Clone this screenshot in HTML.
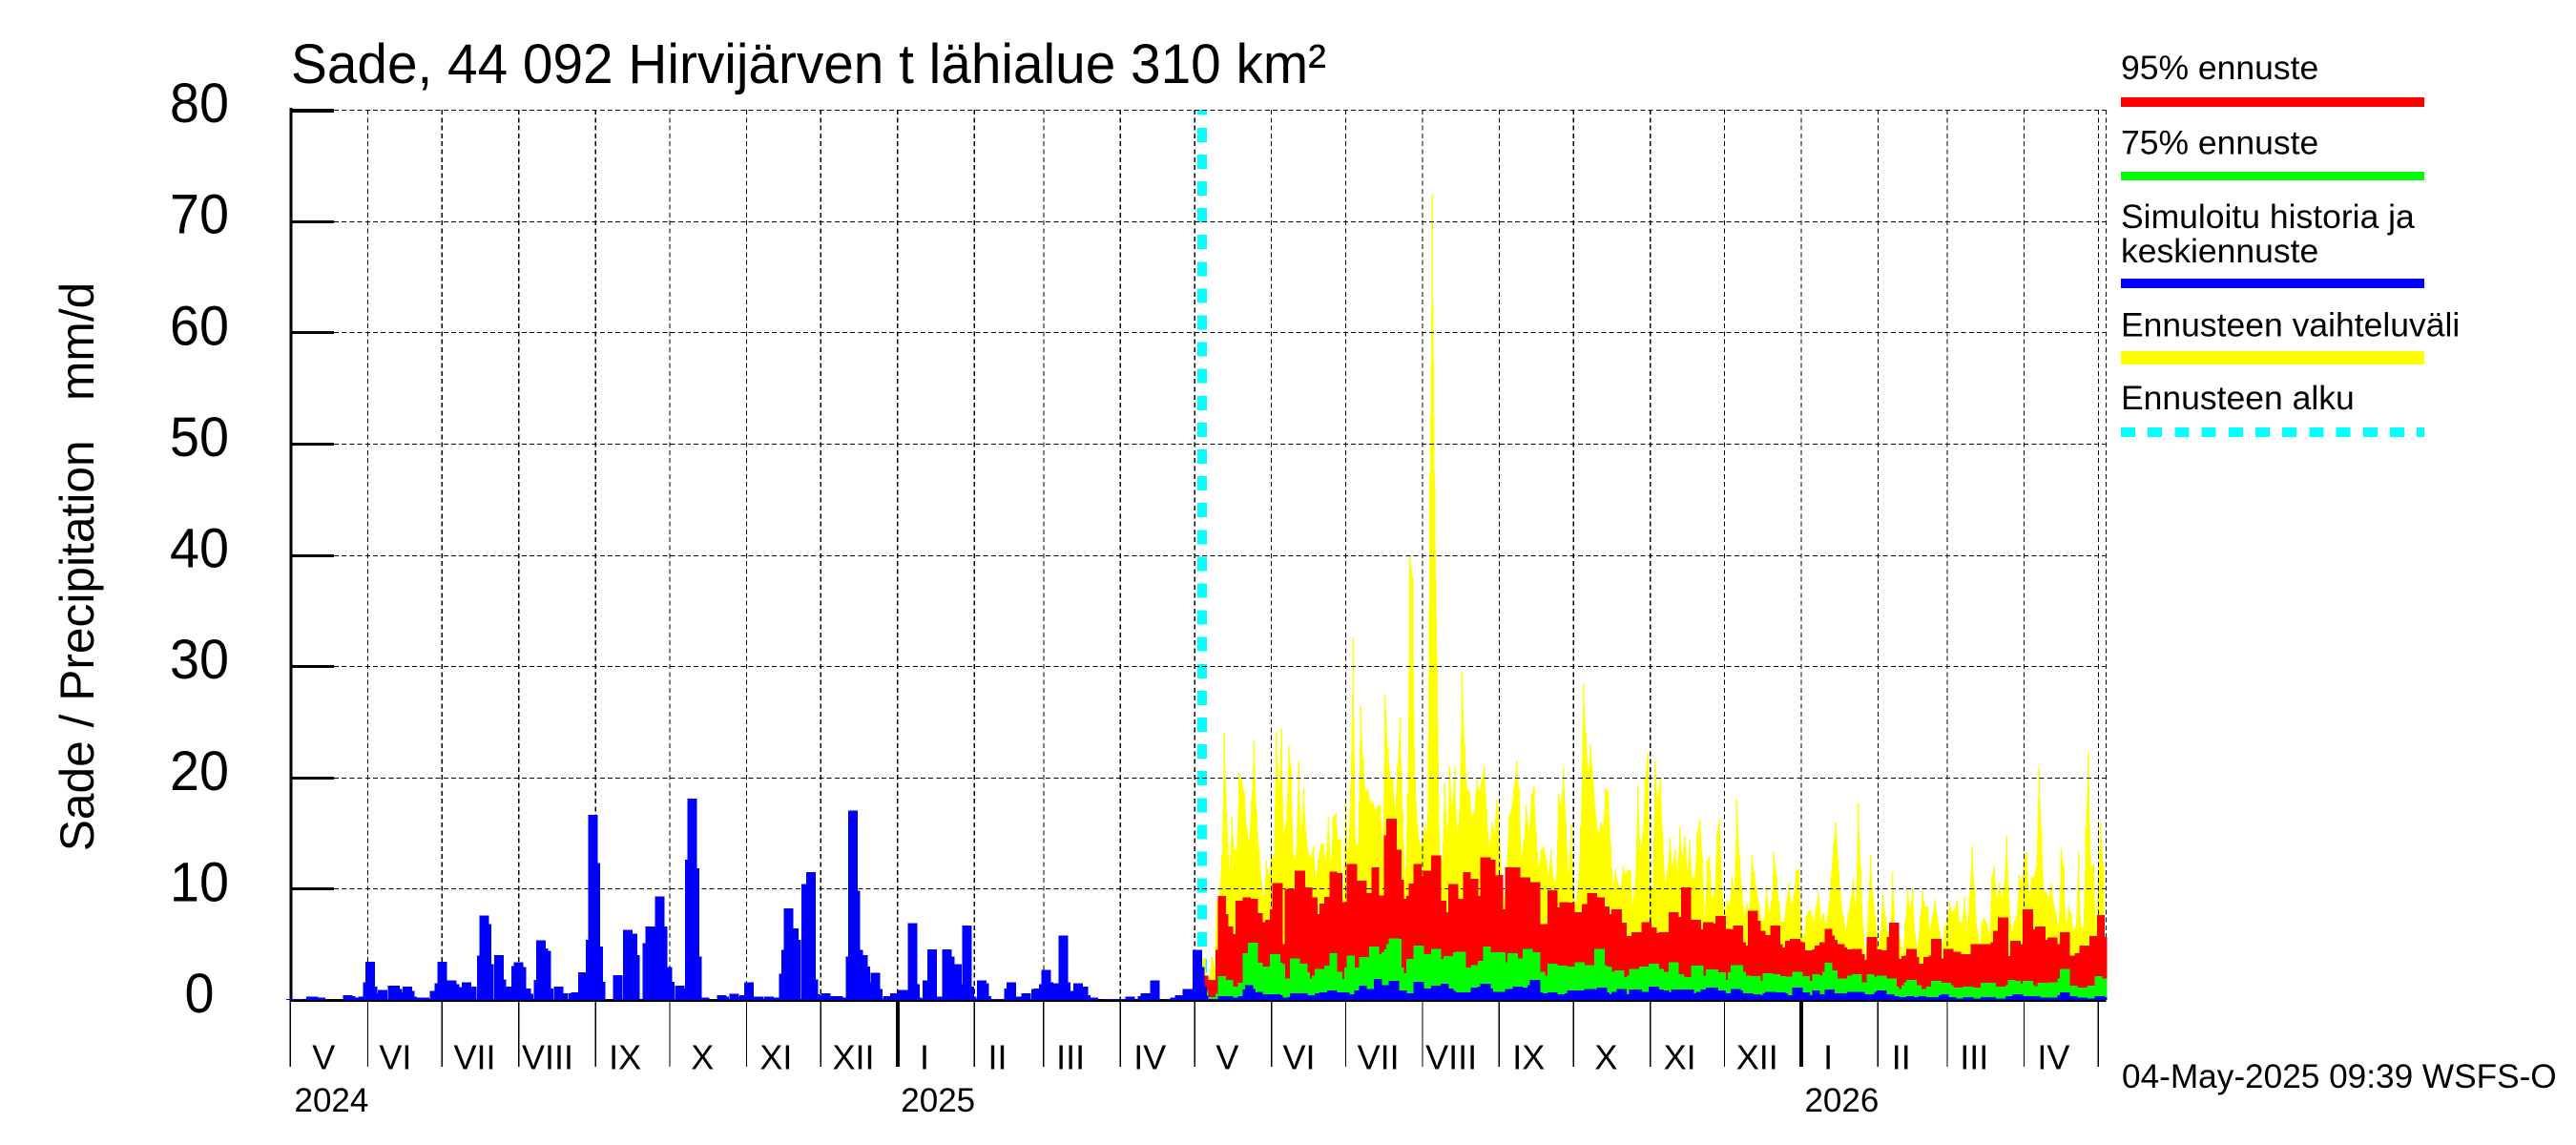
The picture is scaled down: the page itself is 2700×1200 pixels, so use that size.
<!DOCTYPE html>
<html lang="fi">
<head>
<meta charset="utf-8">
<title>Sade, 44 092 Hirvijärven t lähialue 310 km²</title>
<style>
html,body{margin:0;padding:0;background:#fff;width:2700px;height:1200px;overflow:hidden}
svg{display:block}
text{font-family:"Liberation Sans","Noto Sans CJK JP",sans-serif;fill:#000;white-space:pre}
</style>
</head>
<body>
<svg id="chart" xmlns="http://www.w3.org/2000/svg" width="2700" height="1200" viewBox="0 0 2700 1200">
  <rect x="0" y="0" width="2700" height="1200" fill="#fff"/>
  <g id="start-line-layer"></g>
  <g id="yellow-layer" shape-rendering="crispEdges"></g>
  <g id="grid-layer"></g>
  <g id="axis-layer"></g>
  <g id="red-layer" shape-rendering="crispEdges"></g>
  <g id="green-layer" shape-rendering="crispEdges"></g>
  <g id="blue-layer" shape-rendering="crispEdges"></g>

  <text x="305" y="87" font-size="58" textLength="1085" lengthAdjust="spacingAndGlyphs">Sade, 44 092 Hirvijärven t lähialue 310 km²</text>
  <text transform="translate(98 594) rotate(-90)" text-anchor="middle" font-size="49.7" xml:space="preserve">Sade / Precipitation   mm/d</text>
  <text x="2224" y="1140" font-size="35.2">04-May-2025 09:39 WSFS-O</text>

  <g>
    <text x="2223" y="83" font-size="35.5">95% ennuste</text>
    <rect x="2223" y="102" width="318" height="10" fill="#ff0000" shape-rendering="crispEdges"/>
    <text x="2223" y="161.5" font-size="35.5">75% ennuste</text>
    <rect x="2223" y="180" width="318" height="9" fill="#00ff00" shape-rendering="crispEdges"/>
    <text x="2223" y="239" font-size="35.5">Simuloitu historia ja</text>
    <text x="2223" y="275" font-size="35.5">keskiennuste</text>
    <rect x="2223" y="292" width="318" height="10" fill="#0000ff" shape-rendering="crispEdges"/>
    <text x="2223" y="352.5" font-size="35.5">Ennusteen vaihteluväli</text>
    <rect x="2223" y="368" width="318" height="14" fill="#ffff00" shape-rendering="crispEdges"/>
    <text x="2223" y="429" font-size="35.5">Ennusteen alku</text>
    <line x1="2223" y1="453" x2="2541" y2="453" stroke="#00ffff" stroke-width="10" stroke-dasharray="15 13.2" shape-rendering="crispEdges"/>
  </g>
</svg>

<script>
// ---------- chart data ----------
const yTickValues = [0, 10, 20, 30, 40, 50, 60, 70, 80];
const yTickLabels = ['0', '10', '20', '30', '40', '50', '60', '70', '80'];
const monthStarts = ['2024-05-01','2024-06-01','2024-07-01','2024-08-01','2024-09-01','2024-10-01','2024-11-01','2024-12-01','2025-01-01','2025-02-01','2025-03-01','2025-04-01','2025-05-01','2025-06-01','2025-07-01','2025-08-01','2025-09-01','2025-10-01','2025-11-01','2025-12-01','2026-01-01','2026-02-01','2026-03-01','2026-04-01','2026-05-01'];
const monthLabels = ['V','VI','VII','VIII','IX','X','XI','XII','I','II','III','IV','V','VI','VII','VIII','IX','X','XI','XII','I','II','III','IV'];
const yearLabels = ['2024', '2025', '2026'];
const yearStarts = ['2024-05-01', '2025-01-01', '2026-01-01'];
const axisStartDate = '2024-05-01';
const forecastStartDate = '2025-05-04';

// daily simulated history, starting at axisStartDate
const historyValues = [
.1,.1,.1,.1,0,0,0,0,.3,.3,
.2,.2,.2,.1,0,0,0,0,0,0,
0,0,0,.45,.35,0,.2,.2,.2,.3,
0,1.6,3.45,1.2,.45,.45,.6,.9,0,0,
0,1.3,1.3,1,0,.7,0,1.2,.8,.3,
.2,0,.2,.2,.2,0,0,0,.8,0,
1.5,3.45,0,1.5,0,1.75,1.4,1.15,0,0,
0,1.6,0,1.2,0,0,0,4,7.6,6.8,
3.2,0,0,0,4.05,1.85,0,1.2,0,0,
0,3.05,3.4,2.95,0,1.05,.55,0,0,0,
1.8,5.35,4.65,4.4,1.05,0,0,0,1.2,0,
.6,0,0,0,.6,.7,0,0,2.5,2.5,
0,5.4,16.65,12.3,4.8,1.65,0,0,0,0,
0,0,2.25,0,0,0,6.3,0,5.95,4.05,
0,0,0,0,5.1,6.6,1.4,0,0,9.3,
6.6,0,2.95,1.65,0,0,0,1.3,1.05,0,
0,12.6,18.1,11.85,3.9,.2,.2,.2,0,0,
0,0,0,0,.45,.3,0,0,0,.55,
.3,0,0,.45,0,1.6,0,0,.3,.3,
0,0,0,.3,0,0,.2,0,0,2.35,
4.5,8.25,0,6.45,5.4,0,0,0,10.4,0,
11.5,1.85,.5,.4,0,0,.6,.35,0,0,
.35,.35,0,0,.2,0,3.9,17,9.8,4.5,
0,4.05,3,0,1.6,0,2.45,1,0,0,
0,.35,.35,0,.6,0,0,.9,.9,0,
0,6.9,1.4,.2,0,0,0,1.75,0,4.55,
0,0,.3,0,0,4.55,3.9,0,0,3.2,
1.4,0,0,6.7,1.2,.3,0,0,0,1.75,
1.5,.35,0,0,0,.1,0,.1,0,0,
1.05,1.6,.3,.1,0,.3,0,.6,0,0,
0,1,1.05,0,1.4,2.7,1.6,0,1.5,0,
.7,0,5.8,1.6,.8,0,0,0,1.5,0,
1.2,.45,0,.2,.2,0,0,0,0,0,
.1,.1,.1,.1,.1,.1,.1,.1,.1,.3,
0,0,0,0,.35,.6,0,0,0,1.75,
0,0,0,0,0,.1,0,.2,0,.45,
0,0,1,1,0,0,4.5,2.95,1.25];

// daily forecast range maximum (yellow), starting at forecastStartDate
const rangeValues = [
3.7,3.8,1.5,2,3.9,3,9,9.5,13,24,
16.7,11.5,16.5,13.5,13.5,20.4,19.8,18.7,15.5,14.3,
18,23.3,16.8,13.5,10.7,9.2,12.5,11,12.8,13,
24.2,19,24.4,15,16,22.8,20.7,12.5,13.2,21.5,
15,19,15,13.2,12.8,13.8,10.8,12.7,14.1,14,
12.5,16.4,12.3,16.4,16.8,14.4,14.5,9,18,13,
19.3,32.5,14,14,26.4,21.8,18.7,19,17.8,17.8,
17,17.5,17.5,14,27.4,22.7,20,20,17,21,
25.4,17,10.5,18.5,39.9,38,20,15.8,14,14,
16,15,47,72.4,46,30,13,12.5,19.5,15,
21,17,21,15,17,29.5,23,19,18.8,16.5,
17,19.8,18.7,20,21,17,13.5,16,15,18,
16.7,11,9,12,16.5,17.2,19,21.5,19,12.8,
14.5,17.5,15,18.4,19.2,15,12,13.5,13.8,12.7,
11.3,13.5,10.8,10.7,18.5,17.5,20.8,16,11,15.8,
10,8.5,10.7,15.6,28.4,24,20.5,23,19.8,16.6,
14.9,16,15.5,19,18.7,14,10.2,11.8,10.5,10,
12,11.3,11.7,11.7,8.5,11,19.2,13.5,14.8,20,
22.2,10,10,21.5,18,20,15,10.5,11.8,14.6,
12,13.5,11.5,15.5,12.9,14.8,11.6,14.3,11,11,
15,16.2,13,7.5,12.5,12.9,9,9.8,15,16.2,
10,7.5,9,8.5,11,10,18,13,10,7.5,
8.8,8,13,11.5,10,8.5,7,7.4,10.3,7.8,
9,13.3,11.2,8.8,7,7,8.8,10.5,8.5,9.5,
11.6,11.8,6.4,5.3,7.5,8,8.1,7,8.5,9.7,
7.3,7.8,6.7,8.2,11,14,16,12.5,9.4,7.5,
6.2,7.8,9,10.9,8,17.7,12,6.5,3.5,8.5,
13,9.4,7.5,5,6,9.5,7.5,6,6.5,11.5,
6.4,6.2,5.5,3.8,7,10,8.2,10,6,4.5,
7.5,9.8,8.4,8.4,6.3,7.6,9,7.5,6,4.7,
6.6,7.2,8.8,7.8,8.2,9,7,7,9.3,6.5,
9.3,13.8,10,6.4,5,7,7.4,6.8,5.8,11,
12,9,10.5,9.3,10.5,14.8,9,6,7,7.5,
11.2,10.6,13,13.3,9.3,11,11,12,20.8,15.3,
9.8,9.7,9.2,10.5,8.6,7.7,6.6,13.6,12,6.5,
8.4,7.7,6.2,6.6,13.3,6.5,6.5,15.5,22.2,12,
12.2,6.6,11.7,16,12];

// daily 95% forecast (red)
const forecast95Values = [
2.2,2.2,2.2,1.8,1.8,1.8,4.5,9.35,9.35,9.35,
7.7,6.6,6.6,5.9,8.9,8.9,8.9,9.2,9.2,9.2,
9.1,9.1,9.1,7.8,7.8,7,7.2,7.2,8.15,10.5,
10.5,10.5,10.5,5,10,10,10,10,11.6,11.6,
11.6,11.6,10.1,10.1,10.1,9.2,9.2,7.7,8.65,8.65,
9.25,9.25,11.55,11.55,11.55,11.4,11.4,8.8,8.8,12.2,
12.2,12.2,12.2,10.7,10.7,10.7,10.7,9.6,9.6,11.9,
11.9,11.9,9.4,9.4,14.8,16.3,16.3,16.3,16.3,13.5,
13.5,10.8,9.1,9.35,10.45,10.45,12.2,12.2,12.2,11.2,
11.6,11.6,11.6,13,13,13,13,8.9,8.9,7.9,
10.4,10.4,10.4,10.4,9.1,9.1,11.5,11.5,11.5,10.9,
10.9,10.9,9.35,12.8,12.8,12.8,12.8,12.6,12.6,11.2,
11.25,11.25,8.15,11.9,11.9,11.9,11.9,11.9,11.9,11,
11,11,11,10.6,10.6,10.6,10.6,6.8,6.8,6.8,
9.85,9.85,9.85,9.85,8.3,8.8,8.8,8.8,8.8,8.75,
8.75,7.9,7.9,7.9,8.6,8.6,9.6,9.6,9.6,9.6,
9.2,9.2,9.2,8.4,8.4,7.7,8.15,8.15,8.15,8.15,
6.95,6.95,5.75,5.75,6.1,6.1,6.1,6.1,7,7,
7,7,6.5,6.5,6,6.1,6.1,6.1,6.1,7.9,
7.9,7.9,7.9,7.45,10.1,10.1,10.1,10.1,7.2,7.2,
7.2,7.2,6.35,7,7,7,7,6.85,7.55,7.55,
7.55,7.55,6.4,6.4,6.35,6.7,6.7,6.7,6.7,5.2,
4.9,8,8,8,8,7.1,6.2,6.2,5.85,5.85,
6.7,6.7,6.7,6.7,5,4.7,5.3,5.3,5.5,5.5,
5.5,5.5,5.2,5.2,4.45,4.45,4.45,4.55,4.9,4.9,
5.2,5.2,6.4,6.4,6.4,5.8,5.4,5,5,5,
4.7,4.55,4.55,4.6,4.6,4.6,4.6,4.1,3.6,5.65,
5.65,5.65,5.65,4.55,4.55,4.45,4.45,5.65,6.95,6.95,
6.95,6.95,3.7,3.95,4,4.6,4.6,4.6,4.6,3.85,
3.25,3.25,3.85,3.85,4,5.5,5.5,5.5,5.5,3.75,
4.6,4.6,4.6,4.6,4.35,4.35,4.35,4.1,4.1,4.1,
4.1,5,5,5,5,5,5,5,5,5.2,
6.2,6.2,7.4,7.4,7.4,7.4,3.95,5.3,5.3,5.3,
5.3,5,8.15,8.15,8.15,8.15,6.35,6.6,6.6,6.6,
6.6,5.4,5.6,5.6,5.6,5.6,5,6.1,6.1,6.1,
6.1,4,4,4.2,4.2,4.9,4.9,4.9,4.9,5.75,
5.75,5.75,7.65,7.65,7.65,5.65];

// daily 75% forecast (green)
const forecast75Values = [
1.2,1.2,.8,.25,.25,.25,.55,2.15,2.15,2.15,
1.8,1.8,1.8,1.2,1.2,1.55,1.55,4.2,4.2,5.15,
5.15,5.15,5.15,3.35,3.35,3,3,3,4.1,4.1,
4.1,4.1,3.35,3.2,1.95,1.95,3.75,3.75,3.75,3.75,
3.25,3.25,3.25,2.5,1.95,2.2,2.8,2.8,2.8,2.8,
3.1,3.1,4.2,4.2,4.2,2.55,2.55,1.9,2.9,4,
4,4,2.9,2.9,3.85,3.85,3.85,3.85,4.8,4.8,
4.8,4.8,4.1,4.3,4.55,5,5.55,5.55,5.55,5.55,
5.5,2.9,2.4,3.7,3.7,3.7,4.9,4.9,4.9,4.9,
4.1,4.1,4.1,4.6,4.6,4.6,4.6,3.7,3.95,3.95,
3.95,3.95,4.3,4.35,4.35,4.35,4.35,2.9,2.9,3.15,
3.15,3.15,3.5,3.5,4.8,4.8,4.8,4.3,4.3,4.3,
4.3,4.3,4.3,3.4,4.2,4.2,4.2,4.2,3.75,3.75,
4.6,4.6,4.6,4.6,4.3,4.3,4.3,2.55,2.55,2.2,
3.25,3.25,3.25,3.25,3.1,3.1,3.1,3.1,3,3,
3,3.4,3.4,3.4,3.4,3.15,3.15,3.15,3.15,4.6,
4.6,4.6,4.6,3.15,3,3,2.55,2.65,2.65,2.65,
2.65,2.05,2.2,2.8,2.8,2.8,2.8,3,3,3,
3,3.25,3.25,3.25,3.25,2.8,2.8,2.55,2.55,3.4,
3.4,3.4,3.4,2.3,2.3,2.1,2.05,2.05,3.1,3.1,
3.1,3.1,3.1,2.2,2.75,2.75,2.75,2.75,2.75,2.5,
2.5,2.5,1.8,2.5,3.15,3.15,3.15,3.15,3.15,2.55,
2.2,2.2,2.15,2.15,2.15,2.15,1.7,2.4,2.4,2.4,
2.4,2.3,2.3,2.3,2.15,2.15,2.1,2.1,2.1,2.55,
2.55,2.55,2.55,2.15,2.15,2.15,1.7,2.3,2.3,2.3,
2.2,2.55,3.35,3.35,3.35,2.65,2.65,1.95,1.95,1.95,
1.95,2.2,2.2,2.3,2.3,2.3,2.3,1.6,1.6,2.3,
2.3,2.3,2.1,2.2,2.2,2.2,2.2,1.95,1.95,1.95,
1.95,1.2,1,1.35,1.6,1.8,1.8,1.8,1.8,1.35,
1.35,1,1,1.2,1.2,1.7,1.7,1.7,1.7,1.55,
1.55,1.55,1.55,1.35,1.1,1.1,1.1,1.1,1.2,1.2,
1.2,1.2,1.1,1.1,1.1,1.55,1.55,1.55,1.55,1.55,
1.55,1.2,1.2,1.2,1.2,1.35,1.8,1.8,1.8,1.7,
1.7,1.45,1.7,1.7,1.7,1.7,1.35,1.2,1.55,1.55,
1.55,1.55,1.6,1.6,1.6,1.6,1.95,2.8,2.8,2.8,
2.8,1.3,1.3,1.3,1.1,1.1,1.1,1.1,1.3,1.3,
1.3,2.15,2.15,2.15,1.95,1.95];

// daily median forecast (blue)
const forecastMedianValues = [
.85,.7,.4,.1,.1,.1,.1,.35,.35,.35,
.35,.35,.35,.2,.2,.35,.35,.95,1.35,1.35,
1.35,1,.7,.75,.75,.5,.5,.5,.5,.5,
.5,.5,.45,.2,.2,.25,.6,.6,.6,.6,
.6,.6,.6,.45,.45,.45,.6,.6,.7,.7,
.7,.85,.85,.85,.85,.7,.7,.7,.7,.7,
.5,.5,.85,.85,1.3,1.3,1.3,1,1,1,
1.9,1.9,1.9,1.35,1.35,1.35,1.7,1.7,1.7,1.7,
.85,.85,.85,.6,.6,.6,1.65,1.65,1.65,1.65,
1.05,1.05,1.05,1.3,1.3,1.3,1.3,1.45,1.45,1.45,
1.05,1.05,.8,.7,.7,.7,.7,.7,.7,1.1,
1.1,1.1,1.2,1.45,1.45,1.45,1.45,1.05,.75,.75,
.75,.75,.75,1,1,1,1.2,1.2,1.2,1.2,
1.1,1.1,1.35,1.8,1.8,1.8,1.8,.7,.6,.6,
.7,.7,.7,.7,.5,.5,.5,.6,.85,.85,
.85,.85,.85,.85,.85,1,1,1,1,.95,
1.1,1.1,1.1,1.1,.7,.5,.75,.75,1,1,
1,1,.5,.95,.95,.95,.95,.95,.75,.75,
.75,1.2,1.2,1.2,1.2,.95,.95,.85,.85,.7,
.95,.95,.95,.95,.95,.95,.95,.95,.95,.6,
.75,.75,.95,.95,1.1,1.1,1.1,1.1,1.1,.85,
.85,.85,.6,.6,1,1,1,1,.85,.6,
.6,.6,.6,.5,.5,.5,.45,.6,.75,.75,
.75,.75,.7,.7,.7,.7,.6,.45,.45,1.1,
1.1,1.1,1.1,.7,.7,.7,.45,.85,.85,.85,
.5,.5,.95,.95,.95,.95,.6,.6,.6,.6,
.6,.75,.75,.75,.75,.75,.75,.75,.5,.5,
.5,.5,.75,.85,.85,.85,.85,.5,.5,.5,
.35,.35,.25,.25,.25,.35,.35,.35,.25,.25,
.35,.35,.35,.25,.25,.25,.25,.25,.45,.5,
.5,.5,.25,.25,.25,.15,.15,.15,.25,.25,
.25,.25,.15,.15,.15,.25,.25,.25,.25,.25,
.25,.15,.15,.15,.15,.35,.35,.35,.5,.5,
.5,.5,.35,.35,.35,.35,.35,.35,.35,.2,
.2,.2,.2,.2,.2,.2,.45,.7,.7,.7,
.7,.35,.35,.35,.2,.2,.2,.2,.15,.15,
.15,.35,.35,.35,.35,.25];

// ---------- axes ----------
const SVGNS = 'http://www.w3.org/2000/svg';
const plotLeft = 305, pxPerDay = 2.595, plotRight = 2207.5;
const yZero = 1048, pxPerUnit = 11.6625, yTop = yZero - 80 * pxPerUnit;
const dayIndex = s => (Date.parse(s + 'T00:00:00Z') - Date.parse(axisStartDate + 'T00:00:00Z')) / 86400000;
const xScale = d => plotLeft + d * pxPerDay;
const yScale = v => yZero - v * pxPerUnit;
const forecastStart = dayIndex(forecastStartDate);

function make(tag, attrs, parentId, text) {
  const el = document.createElementNS(SVGNS, tag);
  for (const k in attrs) el.setAttribute(k, attrs[k]);
  if (text !== undefined) el.textContent = text;
  document.getElementById(parentId).appendChild(el);
  return el;
}

// forecast start line
{
  const el = make('line', {x1: xScale(forecastStart) + 0.1, y1: yZero, x2: xScale(forecastStart) + 0.1, y2: yTop, stroke: '#00ffff', 'stroke-width': 10, 'stroke-dasharray': '15 13.1', 'shape-rendering': 'crispEdges'}, 'start-line-layer');
  
  
}

// forecast range area (yellow)
{
  const pts = [];
  pts.push(xScale(forecastStart) + ',' + yZero);
  rangeValues.forEach((v, i) => pts.push(xScale(forecastStart + i).toFixed(2) + ',' + yScale(v).toFixed(2)));
  pts.push(xScale(forecastStart + rangeValues.length - 1).toFixed(2) + ',' + yZero);
  const el = make('polygon', {points: pts.join(' '), fill: '#ffff00'}, 'yellow-layer');
  
  
}
rangeValues.forEach((v, i) => {
  const x = xScale(forecastStart + i);
  const el = make('rect', {x: x - 0.75, y: yScale(v), width: 1.5, height: yZero - yScale(v), fill: '#ffff00'}, 'yellow-layer');
  
  
});

// horizontal grid lines and y ticks
yTickValues.forEach((v, i) => {
  const y = Math.round(yScale(v));
  if (v > 0) {
    const g = make('line', {x1: plotLeft + 45, y1: y + 0.5, x2: plotRight, y2: y + 0.5, stroke: '#000', 'stroke-width': 1.2, 'stroke-dasharray': '5 3.2', 'shape-rendering': 'crispEdges'}, 'grid-layer');
    
    
    const t = make('rect', {x: plotLeft - 1, y: y - 1, width: 46, height: v === 80 ? 4 : 3, fill: '#000'}, 'axis-layer');
    
    
  }
  const l = make('text', {x: 209, y: yScale(v) + 13, 'text-anchor': 'middle', 'font-size': 58, textLength: 31 * yTickLabels[i].length, lengthAdjust: 'spacingAndGlyphs'}, 'axis-layer', yTickLabels[i]);
  
  
});

// vertical grid lines, month ticks, month labels
monthStarts.forEach((s, i) => {
  const x = xScale(dayIndex(s));
  const isYear = yearStarts.includes(s) && i > 0;
  if (i > 0) {
    const g = make('line', {x1: x, y1: yTop, x2: x, y2: yZero, stroke: '#000', 'stroke-width': 1.2, 'stroke-dasharray': '5 3.3', 'shape-rendering': 'crispEdges'}, 'grid-layer');
    
    
  }
  const t = make('line', {x1: i === 0 ? x - 0.7 : x, y1: yZero, x2: i === 0 ? x - 0.7 : x, y2: 1118, stroke: '#000', 'stroke-width': isYear ? 4 : 1.3, 'shape-rendering': 'crispEdges'}, 'axis-layer');
  
  
  if (i < monthLabels.length) {
    const next = xScale(dayIndex(monthStarts[i + 1]));
    const lab = monthLabels[i];
    let shift = -8;
    if (['I', 'II', 'III'].includes(lab)) shift -= 4;
    if (['V', 'VII', 'X', 'XII'].includes(lab)) shift += 2;
    if (['VI', 'VIII'].includes(lab)) shift -= 2;
    const m = make('text', {x: (x + next) / 2 + shift, y: 1120.5, 'text-anchor': 'middle', 'font-size': 36}, 'axis-layer', lab);
    
    
  }
});

// right frame line
{
  const el = make('line', {x1: plotRight, y1: yTop, x2: plotRight, y2: yZero, stroke: '#000', 'stroke-width': 1.2, 'stroke-dasharray': '5 3.3', 'shape-rendering': 'crispEdges'}, 'grid-layer');
  
  
}

// year labels
yearLabels.forEach((lab, i) => {
  const el = make('text', {x: xScale(dayIndex(yearStarts[i])) + 3.5, y: 1165, 'font-size': 35}, 'axis-layer', lab);
  
  
});

// axis lines
{
  const yAxis = make('rect', {x: plotLeft - 1.7, y: yTop - 2, width: 3.4, height: yZero - yTop + 4, fill: '#000', 'shape-rendering': 'crispEdges'}, 'axis-layer');
  
  
  const xAxis = make('rect', {x: plotLeft - 1.7, y: yZero - 1, width: plotRight - plotLeft + 1.7, height: 3, fill: '#000', 'shape-rendering': 'crispEdges'}, 'axis-layer');
  
  
}

// forecast bars
forecast95Values.forEach((v, i) => {
  const x = xScale(forecastStart + i);
  const el = make('rect', {x: x - 1.5, y: yScale(v), width: 3, height: yZero - yScale(v), fill: '#ff0000'}, 'red-layer');
  
  
});
forecast75Values.forEach((v, i) => {
  const x = xScale(forecastStart + i);
  const el = make('rect', {x: x - 1.5, y: yScale(v), width: 3, height: yZero - yScale(v), fill: '#00ff00'}, 'green-layer');
  
  
});
historyValues.forEach((v, i) => {
  if (v <= 0) return;
  const x = xScale(i);
  const el = make('rect', {x: x - 5, y: yScale(v), width: 10, height: yZero - yScale(v), fill: '#0000ff'}, 'blue-layer');
  
  
});
forecastMedianValues.forEach((v, i) => {
  const x = xScale(forecastStart + i);
  const el = make('rect', {x: x - 1.5, y: yScale(v), width: 3, height: yZero - yScale(v), fill: '#0000ff'}, 'blue-layer');
  
  
});
</script>
</body>
</html>
